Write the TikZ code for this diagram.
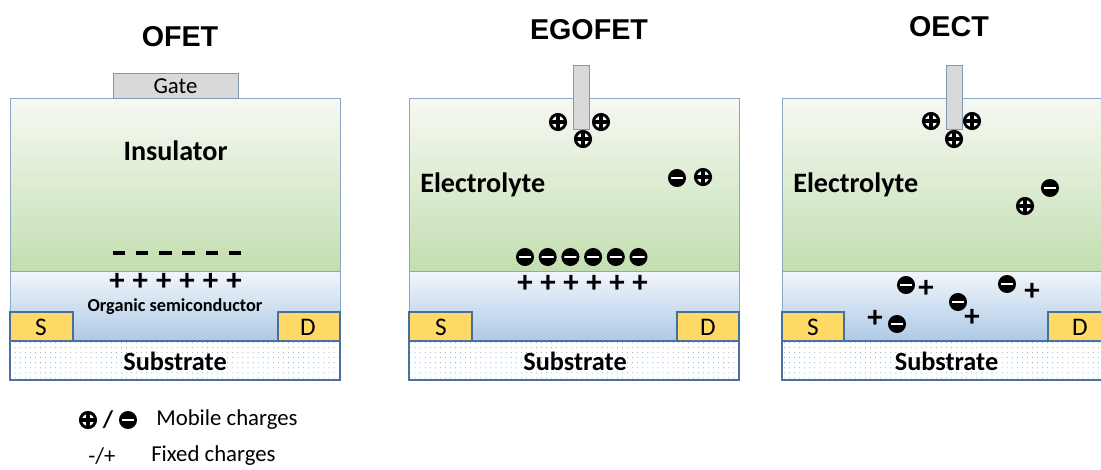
\documentclass[tikz,border=0pt]{standalone}
\usepackage{fontspec}
\setmainfont{Carlito}
\newfontfamily\headfont{Liberation Sans}
\usepackage{tikz}
\usetikzlibrary{patterns.meta}
\definecolor{insTop}{HTML}{F6F9F3}
\definecolor{insBot}{HTML}{C3DEB0}
\definecolor{semiTop}{HTML}{F2F6FB}
\definecolor{semiBot}{HTML}{AEC9E6}
\definecolor{edgeline}{HTML}{8EA6C6}
\definecolor{subedge}{HTML}{4A71A0}
\definecolor{dotblue}{HTML}{7FAADB}
\definecolor{contactfill}{HTML}{FFD966}
\definecolor{contactedge}{HTML}{41719C}
\definecolor{gatefill}{HTML}{D9D9D9}
\definecolor{gateedge}{HTML}{8497B0}
\tikzset{
  % --- device layers ---
  toplayer/.style={top color=insTop, bottom color=insBot, draw=edgeline,
                   line width=0.7pt},
  semilayer/.style={top color=semiTop, bottom color=semiBot, draw=edgeline,
                    line width=0.7pt},
  substrate/.style={preaction={fill=white}, draw=subedge, line width=0.8pt,
                    pattern={Dots[distance=3.6pt, radius=0.38pt]},
                    pattern color=dotblue},
  contact/.style={fill=contactfill, draw=contactedge, line width=0.8pt},
  gatebox/.style={fill=gatefill, draw=gateedge, line width=0.7pt},
  % --- texts ---
  title/.style={font=\headfont\fontsize{20.4}{24}\selectfont\bfseries},
  layertext/.style={font=\fontsize{20}{24}\selectfont\bfseries, inner sep=0pt},
  subtext/.style={font=\fontsize{18.7}{22}\selectfont\bfseries, inner sep=0pt},
  smalltext/.style={font=\fontsize{13}{15}\selectfont\bfseries, inner sep=0pt},
  contacttext/.style={font=\fontsize{18}{21}\selectfont, inner sep=0pt},
  legendtext/.style={font=\fontsize{16.2}{19}\selectfont, inner sep=0pt},
  % --- fixed charges ---
  fixplus/.style={font=\fontsize{22}{24}\selectfont\bfseries, inner sep=0pt},
  fixminus/.style={inner sep=0pt},
  % --- mobile charges (ions) ---
  mplus/.style={circle, draw=black, fill=white, line width=2.1pt,
                minimum size=10.8pt, inner sep=0pt,
                path picture={\draw[line width=2.9pt]
                  ([xshift=-5pt]path picture bounding box.center) --
                  ([xshift=5pt]path picture bounding box.center)
                  ([yshift=-5pt]path picture bounding box.center) --
                  ([yshift=5pt]path picture bounding box.center);}},
  mminus/.style={circle, draw=black, fill=black, line width=2pt,
                 minimum size=10.8pt, inner sep=0pt,
                 path picture={\fill[white]
                  ([xshift=-4.6pt,yshift=-1.05pt]path picture bounding box.center)
                  rectangle
                  ([xshift=4.6pt,yshift=1.05pt]path picture bounding box.center);}},
}

\begin{document}
\begin{tikzpicture}[x=0.25mm, y=-0.25mm]
  \clip (0,0) rectangle (1101,469);

  % --- titles ---
  \node[title] (ofet-title)   at (180,37) {OFET};
  \node[title] (egofet-title) at (589,30) {EGOFET};
  \node[title] (oect-title)   at (949,27) {OECT};

  % --- Panel A: OFET ---
  \begin{scope}[shift={(10,0)}]
    \draw[semilayer] (0,271) rectangle (330,341);
    \draw[contact] (0,312) rectangle (63,341);
    \draw[contact] (268,312) rectangle (330,341);
    \draw[substrate] (0,341) rectangle (330,380);
    \draw[toplayer] (0,98) rectangle (330,271);
    \draw[gatebox] (103,73) rectangle (228,98);
    \node[legendtext] (ofet-gate) at (165.5,86) {Gate};
    \node[layertext] (ofet-ins) at (165.5,151) {Insulator};
    \node[smalltext] (ofet-osc) at (165,307) {Organic semiconductor};
    \node[contacttext] (ofet-s) at (31,327) {S};
    \node[contacttext] (ofet-d) at (298,327) {D};
    \node[subtext] (ofet-sub) at (165,361) {Substrate};
    \foreach \i in {0,...,5} {
      \node[fixminus] (ofet-fm\i) at (109+23.2*\i,253) {\rule{8.8pt}{2.6pt}};
      \node[fixplus]  (ofet-fp\i) at (107+23.4*\i,282) {+};
    }
  \end{scope}

  % --- Panel B: EGOFET ---
  \begin{scope}[shift={(409,0)}]
    \draw[semilayer] (0,271) rectangle (330,341);
    \draw[contact] (0,312) rectangle (63,341);
    \draw[contact] (268,312) rectangle (330,341);
    \draw[substrate] (0,341) rectangle (330,380);
    \draw[toplayer] (0,98) rectangle (330,271);
    \draw[gatebox] (164,65) rectangle (180,129);
    \node[layertext, anchor=west] (ego-ely) at (11,185) {Electrolyte};
    \node[contacttext] (ego-s) at (32,327) {S};
    \node[contacttext] (ego-d) at (299,327) {D};
    \node[subtext] (ego-sub) at (166,361) {Substrate};
    % ions at the gate
    \node[mplus] (ego-g1) at (149,122) {};
    \node[mplus] (ego-g2) at (192,122) {};
    \node[mplus] (ego-g3) at (174,139) {};
    % ions in the bulk
    \node[mminus] (ego-b1) at (268,178) {};
    \node[mplus]  (ego-b2) at (294,177) {};
    % double layer at the channel
    \foreach \i in {0,...,5} {
      \node[mminus]  (ego-dl\i) at (116+22.7*\i,257) {};
      \node[fixplus] (ego-fp\i) at (116+23*\i,284) {+};
    }
  \end{scope}

  % --- Panel C: OECT ---
  \begin{scope}[shift={(782,0)}]
    \draw[semilayer] (0,271) rectangle (330,341);
    \draw[contact] (0,312) rectangle (62,341);
    \draw[contact] (266,312) rectangle (330,341);
    \draw[substrate] (0,341) rectangle (330,380);
    \draw[toplayer] (0,98) rectangle (330,271);
    \draw[gatebox] (164,65) rectangle (180,129);
    \node[layertext, anchor=west] (oect-ely) at (11,185) {Electrolyte};
    \node[contacttext] (oect-s) at (31,327) {S};
    \node[contacttext] (oect-d) at (298,327) {D};
    \node[subtext] (oect-sub) at (164.5,361) {Substrate};
    % ions at the gate
    \node[mplus] (oect-g1) at (149,121) {};
    \node[mplus] (oect-g2) at (190,121) {};
    \node[mplus] (oect-g3) at (172,139) {};
    % ions in the bulk
    \node[mplus]  (oect-b1) at (243,206) {};
    \node[mminus] (oect-b2) at (268,188) {};
    % ions inside the channel, with their fixed charges
    \node[mminus]  (oect-c1) at (124,285) {};
    \node[fixplus] (oect-p1) at (144,289) {+};
    \node[mminus]  (oect-c2) at (225,284) {};
    \node[fixplus] (oect-p2) at (250,292) {+};
    \node[mminus]  (oect-c3) at (176,302) {};
    \node[fixplus] (oect-p3) at (190,318) {+};
    \node[fixplus] (oect-p4) at (93,319) {+};
    \node[mminus]  (oect-c4) at (115,324) {};
  \end{scope}

  % --- legend ---
  \node[mplus]  (leg-plus)  at (88,420) {};
  \node[legendtext, font=\fontsize{17}{19}\selectfont\bfseries] (leg-slash) at (108,420) {/};
  \node[mminus] (leg-minus) at (128,420) {};
  \node[legendtext, anchor=west] (leg-mobile) at (156,420) {Mobile charges};
  \node[legendtext] (leg-fix) at (102,456) {-/+};
  \node[legendtext, anchor=west] (leg-fixed) at (151,456) {Fixed charges};
\end{tikzpicture}
\end{document}
